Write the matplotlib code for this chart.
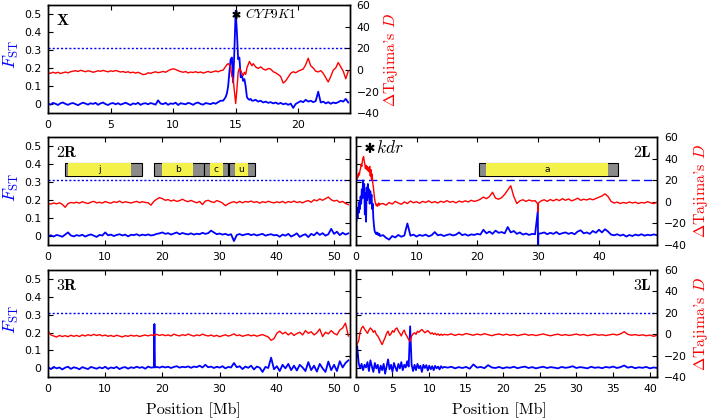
import numpy as np
import matplotlib
matplotlib.use("Agg")
import matplotlib.pyplot as plt
from matplotlib.patches import Rectangle
import matplotlib.patheffects as pe

plt.rcParams['mathtext.fontset'] = 'cm'
plt.rcParams['font.family'] = ['DejaVu Sans']

# ---------------- data ----------------
fst_ticks = [0, 0.1, 0.2, 0.3, 0.4, 0.5]
fst_ticklabels = ['0', '0.1', '0.2', '0.3', '0.4', '0.5']
tajd_ticks = [-40, -20, 0, 20, 40, 60]
fst_threshold = 0.31

def seg(a, b, n):
    return np.linspace(a, b, n)

# X chromosome
pos_X = np.concatenate([seg(0, 13.8, 70), seg(14.0, 16.3, 24), seg(16.4, 24.0, 39)])
fst_X = [0.005, -0.002, 0.008, 0.003, -0.004, 0.006, 0.010, 0.002, -0.003, 0.004,
         0.007, 0.001, -0.005, 0.003, 0.009, 0.004, -0.002, 0.006, 0.002, 0.008,
         -0.003, 0.005, 0.010, 0.001, -0.004, 0.004, 0.007, 0.000, 0.006, -0.002,
         0.003, 0.009, 0.002, -0.004, 0.005, 0.001, 0.008, -0.003, 0.004, 0.006,
         0.000, 0.007, 0.003, -0.002, 0.022, 0.004, 0.001, 0.008, -0.003, 0.005,
         0.002, 0.009, -0.004, 0.006, 0.003, 0.000, 0.008, 0.004, -0.003, 0.006,
         0.010, 0.002, -0.002, 0.007, 0.004, 0.001, 0.008, 0.003, 0.012, 0.020,
         0.02, 0.03, 0.04, 0.06, 0.10, 0.18, 0.25, 0.26, 0.12, 0.30, 0.52, 0.40,
         0.25, 0.26, 0.15, 0.16, 0.13, 0.14, 0.10, 0.04, 0.03, 0.025, 0.03, 0.02,
         0.02, 0.025, 0.015, 0.02, 0.01, 0.015, 0.008, 0.012, 0.005, 0.01,
         0.002, 0.008, 0.0, 0.005, -0.003, 0.004, -0.02, 0.002, 0.01, 0.018,
         0.012, 0.025, 0.015, 0.02, 0.012, 0.018, 0.07, 0.01, 0.015, 0.005,
         0.012, 0.003, 0.01, 0.006, 0.012, 0.02, 0.015, 0.03, 0.01]
tajd_X = [-2.5, -3, -2, -2.8, -2, -3.2, -2.4, -1.8, -2.6, -1.5,
          -1, -0.5, -1.3, -0.2, -0.8, -1.5, -0.6, -1.2, -2, -1.4,
          -0.6, -1.1, -0.3, -0.9, -1.6, -0.7, -1.2, -0.4, -1, -1.8,
          -1.3, -2.2, -1.5, -2.5, -1.9, -2.8, -2, -3, -4.2, -3.8,
          -2.5, -3, -2.2, -1.6, -2.4, -1.9, -1.2, -2, -0.6, 0.5,
          1.2, 0.6, -0.5, -1.4, -2, -1.3, -2.6, -1.8, -2.2, -1.5,
          -2.4, -1.7, -2.8, -2, -1.2, -2.2, -1.5, -0.8, -1.6, -0.5,
          0.0, 1.7, 3.3, 5.0, 6.0, 5.0, 2.0, -6.0, -8.0, -20, -31, -18,
          -2, 1.7, 0.0, -3, -5, -2, -4, 2, 5, 8, 6, 4,
          6, 3, 1.5, 3, 1, 0, 1.5, 1, -1.5, -2.5,
          -4, -6, -12, -10, -6.5, -3, -1.5, -2.5, -1, 0,
          1, 5, 11, 4, 2, -1, -1.7, -0.5, -3, -7,
          -11, -6, 0, 2, 7, 3, -1, -8, -1]

# 2R
pos_2R = seg(0, 52.5, 106)
fst_2R = [0.0, 0.004, -0.003, 0.006, 0.002, -0.004, 0.008, 0.02, 0.003, -0.002,
          0.005, 0.001, 0.007, -0.003, 0.004, 0.009, 0.002, -0.005, 0.006, 0.003,
          0.02, 0.004, 0.008, 0.0, 0.006, 0.01, 0.003, 0.008, -0.002, 0.007,
          0.005, 0.01, 0.002, 0.008, 0.004, 0.009, 0.003, 0.006, 0.012, 0.015,
          0.02, 0.012, 0.016, 0.008, 0.014, 0.02, 0.01, 0.017, 0.012, 0.009,
          0.015, 0.008, 0.013, 0.01, 0.018, 0.012, 0.016, 0.03, 0.02, 0.01,
          0.014, 0.008, 0.012, 0.005, 0.01, -0.028, 0.006, 0.011, 0.004, 0.009,
          0.012, 0.005, 0.01, 0.003, 0.008, 0.012, 0.002, 0.007, 0.01, 0.004,
          0.006, -0.004, 0.008, 0.002, 0.012, -0.003, 0.005, 0.015, -0.005, 0.004,
          0.01, -0.006, 0.012, 0.004, 0.02, 0.006, 0.016, 0.002, 0.01, 0.04,
          0.012, 0.024, 0.005, 0.018, 0.008, 0.015]
tajd_2R = [-1.5, -2, -1, -1.8, -0.8, -2.2, -5, -1.5, -0.5, -1,
           -0.3, -1.2, 0.2, -0.8, -1.5, -0.2, 0.5, -0.9, -0.3, -1.1,
           0.4, -0.6, -1.2, 0.2, -0.5, 0.8, -0.8, 0.1, -0.4, -1,
           -0.2, 0.5, -0.7, 0.2, -0.5, -0.8, -3, 0.5, 2.5, 4,
           3, 1.5, 2.2, 0.8, 1.8, 0.5, 1.2, 2.5, 1, 0.3,
           1.4, 0.2, -0.8, 0.5, -2.5, 0.8, 1.5, 0.2, -0.5, 1.2,
           0.3, -1, -3.5, -1.8, -0.5, 0.2, -1, 0.5, -0.8, 0.4,
           -0.2, 0.8, -0.5, 0.3, -1.2, 0.2, -0.6, 0.6, -0.3, -0.9,
           0.1, -0.7, 0.5, -1, 0.3, -0.4, 0.8, -0.6, 0.2, -0.9,
           0.5, 1.2, -0.3, 2, 1, 2.8, 1.5, 3, 4.5, 2,
           0.8, 1.5, -0.5, 0.5, -1.5, -2.5]

# 2L
pos_2L = np.concatenate([seg(0, 4, 41), seg(4.5, 29.5, 51), [29.95, 30.0, 30.05], seg(30.5, 49.5, 39)])
fst_2L = [0.12, 0.08, 0.14, 0.10, 0.16, 0.13, 0.19, 0.15, 0.22, 0.18,
          0.26, 0.21, 0.31, 0.25, 0.29, 0.12, 0.24, 0.08, 0.27, 0.20,
          0.29, 0.22, 0.26, 0.18, 0.25, 0.20, 0.23, 0.15, 0.18, 0.10,
          0.06, 0.03, 0.02, 0.015, 0.01, 0.02, 0.008, 0.015, 0.005, 0.012, 0.0,
          0.005, -0.01, -0.02, 0.0, -0.008, 0.006, -0.004, 0.003, 0.07, 0.002,
          0.008, -0.003, 0.006, 0.001, 0.008, -0.002, 0.005, 0.022, 0.004, 0.008,
          0.0, 0.006, 0.01, 0.003, 0.008, 0.02, 0.005, 0.01, 0.002, 0.009,
          0.006, 0.012, 0.008, 0.035, 0.015, 0.025, 0.012, 0.03, 0.018, 0.022,
          0.015, 0.05, 0.02, 0.028, 0.012, 0.02, 0.008, 0.014, 0.006, 0.012, 0.01,
          0.14, -0.06, 0.012,
          0.015, 0.02, 0.01, 0.018, 0.012, 0.022, 0.01, 0.016, 0.02, 0.012,
          0.018, 0.01, 0.025, 0.032, 0.015, 0.02, 0.012, 0.028, 0.018, 0.035,
          0.02, 0.038, 0.025, 0.008, 0.004, 0.01, 0.002, 0.008, -0.003, 0.006,
          0.0, 0.008, 0.003, 0.01, 0.002, 0.007, 0.004, 0.009, 0.005]
tajd_2L = [22, 24, 21, 25, 23, 27, 25, 29, 31, 35,
           33, 38, 41, 42, 38, 35, 31, 34, 30, 33,
           29, 32, 28, 33, 24, 30, 21, 26, 18, 14,
           8, 3, 0, -2, -3.5, -2, -4, -2.5, -1, -3, -2,
           -1.5, -3, -0.5, -2, 0.5, -1, -2.2, 0, -1.5, 0.8,
           -0.8, 0.2, -1.2, 0.5, -0.5, 1, -0.8, 0.3, -1, 0.6,
           -0.4, 1.2, -0.3, 0.5, -0.9, 0.8, -0.2, 1, 0, 1.5,
           0.5, 1.2, 2.5, 4.5, 3, 5, 9, 3.5, 2.5, 4,
           7, 11, 15, 5, -1.5, 1, 2, 0.5, 1.8, 0.8, 1.2,
           -2, -9, -1,
           1, 2, 0.5, 2.2, 1, 2.5, 1.2, 3, 1.5, 2.8,
           1, 2, 3.5, 1.5, 2.5, 1.8, 3, 2, 3.2, 4.5,
           5.5, 7.5, 5, 0.5, -1, -0.2, -1.5, -0.5, -1.2, 0,
           -1, -0.3, -1.5, -0.5, -1, 0.2, -0.8, -1.5, -0.5]

# 3R
pos_3R = np.concatenate([seg(0, 18, 37), [18.5, 18.6, 18.7], seg(19, 52.5, 68)])
fst_3R = [0.006, -0.004, 0.008, 0.0, 0.005, -0.006, 0.004, 0.009, -0.003, 0.006,
          0.002, -0.005, 0.007, 0.001, -0.004, 0.008, 0.003, -0.002, 0.006, 0.0,
          0.009, -0.003, 0.005, 0.001, 0.008, -0.004, 0.004, 0.007, -0.002, 0.006,
          0.002, 0.009, 0.003, 0.007, -0.002, 0.01, 0.004,
          0.006, 0.248, 0.005,
          0.008, 0.004, 0.01, 0.005, 0.009, 0.002, 0.008, 0.012, 0.004, 0.009,
          0.006, 0.011, 0.003, 0.01, 0.007, 0.015, 0.005, 0.02, 0.006, 0.01,
          0.002, 0.009, 0.004, 0.012, 0.0, 0.008, 0.005, 0.03, 0.006, 0.012,
          -0.004, 0.01, 0.003, 0.015, -0.006, 0.01, 0.004, -0.02, 0.008, 0.002,
          0.06, -0.005, 0.012, -0.015, 0.02, 0.0, 0.025, -0.01, 0.015, -0.012,
          0.02, 0.005, -0.015, 0.035, -0.01, 0.015, -0.018, 0.025, 0.0, -0.02,
          0.038, -0.01, 0.02, -0.015, 0.04, 0.005, 0.03, 0.045]
tajd_3R = [3, -0.5, -1.5, -2.5, -1, -2, -1.2, -2.2, -0.8, -1.8,
           -1, -2, -0.5, -1.5, -0.3, -1.2, 0, -1, -0.2, -1.4,
           -0.6, -1.8, -1, -2, -0.8, -1.6, -2.4, -1.2, -1.8, -0.8,
           -1.6, -1, -2, -1.2, -0.6, -1.4, -0.5,
           -1, 0, -0.5,
           0, -1, -0.2, -1.2, -0.5, -1.5, 0.2, -0.8, -1.4, -0.3,
           -1, 0.3, -0.8, -1.6, -0.5, -1.2, 0.2, -0.8, -1.5, -0.6,
           -1.8, -0.9, -2.2, -1.2, -0.4, -1.6, -0.8, 0.5, -1.2, -0.5,
           -1.8, -1, -0.3, -1.4, -0.6, -1.7, -0.9, -0.2, -1.3, -2.5,
           -5.5, -4, 1, 3, 0.5, 2, -0.5, 1.5, -1, 0.8,
           2, -0.5, 3.5, 1, 2.5, -0.5, 1.5, 5, -2, 2,
           0.5, 3.5, 1, -0.5, 4, 6, 10.5, -1.5]

# 3L
pos_3L = np.concatenate([seg(0, 12, 61), seg(12.5, 41, 58)])
fst_3L = [0.02, 0.125, 0.03, 0.0, 0.025, -0.01, 0.02, 0.005, 0.035, -0.015,
          0.045, 0.01, -0.02, 0.03, 0.0, 0.02, -0.025, 0.015, -0.01, 0.025,
          -0.03, 0.01, 0.05, -0.005, 0.02, -0.02, 0.03, 0.005, -0.015, 0.025,
          0.0, 0.035, -0.01, 0.02, 0.005, 0.04, 0.01, 0.235, 0.02, -0.015,
          0.02, -0.01, 0.025, 0.0, 0.015, -0.02, 0.02, 0.002, 0.018, -0.012,
          0.015, -0.005, 0.012, -0.01, 0.014, 0.0, 0.01, -0.006, 0.012, 0.002, 0.008,
          0.004, 0.009, 0.0, 0.007, 0.002, 0.008, -0.002, 0.022, 0.004, 0.008,
          0.001, 0.018, 0.005, 0.002, 0.008, 0.0, 0.006, 0.003, 0.009, 0.001,
          0.006, 0.01, 0.002, 0.007, 0.0, 0.005, 0.009, 0.002, 0.007, 0.004,
          0.0, 0.008, 0.003, 0.006, 0.012, 0.002, 0.007, 0.004, 0.0, 0.009,
          0.003, 0.006, 0.001, 0.008, 0.004, 0.01, 0.002, 0.007, 0.016, 0.004,
          0.009, 0.001, 0.006, 0.003, 0.008, 0.0, 0.005, 0.002]
tajd_3L = [-11, -9, -6, 2, 6, 7.5, 5, 3, 1, 4,
           6, 4.5, 2, 3.5, 0, -1.5, -4, -7, -9.5, -6,
           -3, 1, 3, -1, 0.5, 3.5, 2, 5, 6, 3,
           1, -1.5, 2, 4, 0, -2, -5, -6.5, -1.5, 0.5,
           1.5, 0, 3, 2, 3.5, 4.5, 3, 1.5, 2.5, 3.5,
           2, 0.5, 1.5, 0, 1, -0.5, 0.5, -1, 0.2, -0.8, 0,
           -0.5, 0.5, -1, 0.2, -0.6, 0.8, 0, -0.8, 0.3, -0.5,
           0.6, -0.3, -1.2, -0.2, 0.4, -0.7, 0.2, -0.9, -0.1, -1.2,
           -0.4, 0.3, -0.8, -0.2, -1.1, -0.3, 0.4, -0.6, -1.3, -0.4,
           0.2, -0.9, -0.2, -1, -0.4, 0.3, -0.7, -0.1, -1.2, -0.5,
           0.1, -0.8, -0.3, -1.1, -0.4, 0.2, -0.6, 0.5, 2.5, 0,
           -0.8, -0.2, -1, -0.4, -1.3, -0.6, -1.8, -0.8]

# inversions: name, outer start, outer end, core start, core end (Mb)
inv_2R_names = ['j', 'b', 'c', 'u']
inv_2R_outer = [(3.0, 16.5), (18.6, 27.3), (27.3, 31.4), (31.6, 36.1)]
inv_2R_core = [(3.5, 14.5), (20.0, 25.4), (28.3, 30.6), (32.6, 34.9)]
inv_2L_names = ['a']
inv_2L_outer = [(20.2, 43.1)]
inv_2L_core = [(21.4, 41.5)]

# ---------------- layout ----------------
W, H = 709, 419
BLUE = '#0000ff'
RED = '#ff0000'

def rect(l, t, r, b):
    return [l / W, 1 - b / H, (r - l) / W, (b - t) / H]

fig = plt.figure(figsize=(W / 100, H / 100), dpi=100)

panels = [
    dict(name='X', pos=pos_X, fst=fst_X, tajd=tajd_X, r=rect(48, 5.3, 349.5, 113.3),
         xmax=24.1, xticks=[0, 5, 10, 15, 20], left=True, right=True, label_right=False,
         ls=(0, (1.5, 1.5))),
    dict(name='2R', pos=pos_2R, fst=fst_2R, tajd=tajd_2R, r=rect(48, 137.3, 349.5, 245),
         xmax=52.7, xticks=[0, 10, 20, 30, 40, 50], left=True, right=False, label_right=False,
         ls=(0, (1.5, 1.5))),
    dict(name='2L', pos=pos_2L, fst=fst_2L, tajd=tajd_2L, r=rect(355.7, 137.3, 657.3, 245),
         xmax=49.6, xticks=[0, 10, 20, 30, 40], left=False, right=True, label_right=True,
         ls=(0, (6, 3))),
    dict(name='3R', pos=pos_3R, fst=fst_3R, tajd=tajd_3R, r=rect(48, 270, 349.5, 377.3),
         xmax=52.7, xticks=[0, 10, 20, 30, 40, 50], left=True, right=False, label_right=False,
         ls=(0, (1.5, 1.5))),
    dict(name='3L', pos=pos_3L, fst=fst_3L, tajd=tajd_3L, r=rect(355.7, 270, 657.3, 377.3),
         xmax=41.0, xticks=[0, 5, 10, 15, 20, 25, 30, 35, 40], left=False, right=True, label_right=True,
         ls=(0, (1.5, 1.5))),
]

axes = {}
for p in panels:
    ax = fig.add_axes(p['r'])
    ax.plot(p['pos'], p['fst'], color=BLUE, lw=1.3, zorder=2)
    ax.axhline(fst_threshold, color=BLUE, lw=1.0, ls=p['ls'], zorder=1)
    ax.set_xlim(0, p['xmax'])
    ax.set_ylim(-0.05, 0.55)
    ax.set_xticks(p['xticks'])
    ax.set_yticks(fst_ticks)
    ax.set_yticklabels(fst_ticklabels)
    ax.tick_params(axis='both', direction='in', length=3.5, width=0.8, labelsize=7.8,
                   top=True, right=False, pad=5, labelleft=p['left'])
    ax2 = ax.twinx()
    ax2.plot(p['pos'], p['tajd'], color=RED, lw=1.0)
    ax2.set_ylim(-40, 60)
    ax2.set_yticks(tajd_ticks)
    ax2.tick_params(axis='y', direction='in', length=3.5, width=0.8, labelsize=7.8,
                    pad=5, labelright=p['right'])
    for a in (ax, ax2):
        for s in a.spines.values():
            s.set_linewidth(1.0)
    # panel label
    if p['label_right']:
        ax.text(0.983, 0.815, r'$\mathbf{%s}$' % p['name'], transform=ax.transAxes,
                ha='right', va='baseline', fontsize=11.5)
    else:
        ax.text(0.027, 0.815, r'$\mathbf{%s}$' % p['name'], transform=ax.transAxes,
                ha='left', va='baseline', fontsize=11.5)
    axes[p['name']] = ax

# inversion boxes
def draw_inversions(ax, names, outer, core):
    for nm, (o0, o1), (c0, c1) in zip(names, outer, core):
        ax.add_patch(Rectangle((o0, 0.335), o1 - o0, 0.07, facecolor='#8a8a8a',
                               edgecolor='black', lw=0.8, zorder=3))
        ax.add_patch(Rectangle((c0, 0.335), c1 - c0, 0.07, facecolor='#f4f24a',
                               edgecolor='none', zorder=4))
        ax.text((c0 + c1) / 2, 0.37, nm, ha='center', va='center', fontsize=6.5, zorder=5)

draw_inversions(axes['2R'], inv_2R_names, inv_2R_outer, inv_2R_core)
draw_inversions(axes['2L'], inv_2L_names, inv_2L_outer, inv_2L_core)

# gene annotations
bold = [pe.withStroke(linewidth=0.9, foreground='black')]
axX = axes['X']
axX.text(15.1, 0.5, r'$\ast$', ha='center', va='center', fontsize=13, path_effects=bold)
axX.text(15.75, 0.5, r'$\mathit{CYP9K1}$', ha='left', va='center', fontsize=9.5)
ax2L = axes['2L']
ax2L.text(2.4, 0.495, r'$\ast$', ha='center', va='center', fontsize=15, path_effects=bold)
ax2L.text(3.3, 0.49, r'$kdr$', ha='left', va='center', fontsize=12.5)

# axis labels
for yc in (54, 187, 319):
    fig.text(11 / W, 1 - yc / H, r'$F_{\mathrm{ST}}$', color=BLUE, rotation=90,
             ha='center', va='center', fontsize=13)
for xc, yc in ((391.5, 60), (701, 191), (701, 323.6)):
    fig.text(xc / W, 1 - yc / H, r"$\Delta$Tajima's $D$", color=RED, rotation=90,
             ha='center', va='center', fontsize=11.5, family='cmr10')
for xc in (193, 499):
    fig.text(xc / W, 1 - 410 / H, 'Position [Mb]', ha='center', va='center',
             fontsize=11.5, family='cmr10')

fig.savefig('out.png', dpi=100)
